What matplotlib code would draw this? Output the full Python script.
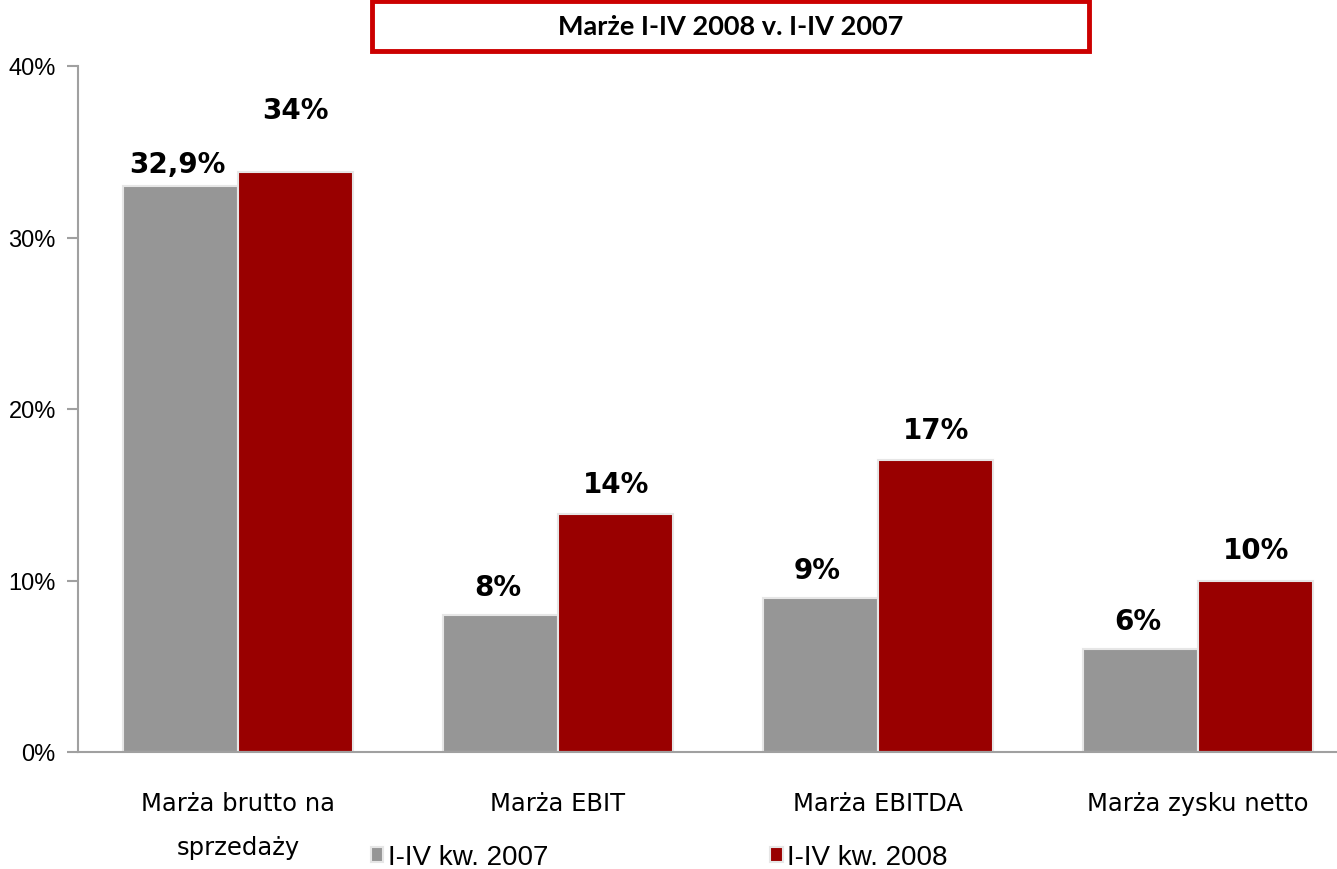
import matplotlib.pyplot as plt
from matplotlib.patches import Rectangle
import numpy as np

categories = ["Marża brutto na\nsprzedaży", "Marża EBIT", "Marża EBITDA", "Marża zysku netto"]
series_names = ["I-IV kw. 2007", "I-IV kw. 2008"]
values_2007 = [33.0, 8.0, 9.0, 6.0]
values_2008 = [33.8, 13.9, 17.0, 10.0]
labels_2007 = ["32,9%", "8%", "9%", "6%"]
labels_2008 = ["34%", "14%", "17%", "10%"]
title = "Marże I-IV 2008 v. I-IV 2007"

GRAY = "#969696"
RED = "#990000"


def main():
    W, H = 1337, 870
    fig = plt.figure(figsize=(W / 100, H / 100), dpi=100)
    # axes runs a bit past the right edge, like the cropped original
    ax = fig.add_axes([78 / W, 1 - 753 / H, 1280 / W, (753 - 67) / H])

    x = np.arange(len(categories))
    bw = 0.36
    b1 = ax.bar(x - bw / 2, values_2007, bw, color=GRAY, edgecolor="#e6e6e6",
                linewidth=1.5, label=series_names[0])
    b2 = ax.bar(x + bw / 2, values_2008, bw, color=RED, edgecolor="#e6e6e6",
                linewidth=1.5, label=series_names[1])

    for rect, lab in zip(b1, labels_2007):
        off = 22 if lab == "32,9%" else 28
        ax.annotate(lab, (rect.get_x() + rect.get_width() / 2, rect.get_height()),
                    xytext=(-3, off), textcoords="offset pixels", ha="center", va="center",
                    fontsize=20, fontweight="bold", family="DejaVu Sans")
    for rect, lab in zip(b2, labels_2008):
        off = 62 if lab == "34%" else 30
        ax.annotate(lab, (rect.get_x() + rect.get_width() / 2, rect.get_height()),
                    xytext=(0, off), textcoords="offset pixels", ha="center", va="center",
                    fontsize=20, fontweight="bold", family="DejaVu Sans")

    ax.set_xlim(-0.5, len(categories) - 0.5)
    ax.set_ylim(0, 40)
    ax.set_yticks([0, 10, 20, 30, 40])
    ax.set_yticklabels([f"{v}%" for v in [0, 10, 20, 30, 40]],
                       fontsize=17, family="Liberation Sans", fontstretch="normal")
    ax.set_xticks(x)
    ax.set_xticklabels(categories, fontsize=17.5, family="DejaVu Sans", linespacing=2.05)
    ax.tick_params(axis="x", length=0, pad=28)
    ax.tick_params(axis="y", length=8, width=1.5, color="#a0a0a0", pad=8)

    for s in ["top", "right"]:
        ax.spines[s].set_visible(False)
    for s in ["left", "bottom"]:
        ax.spines[s].set_color("#a0a0a0")
        ax.spines[s].set_linewidth(1.5)

    # title box
    fig.patches.append(Rectangle((372 / W, 1 - 52 / H), (1089 - 372) / W, 50 / H,
                                 transform=fig.transFigure, facecolor="white",
                                 edgecolor="#cc0000", linewidth=3.5))
    fig.text((372 + 1089) / 2 / W, 1 - 27 / H, title, ha="center", va="center",
             fontsize=19.5, fontweight="bold", family="Lato")

    fig.legend(loc="center left", bbox_to_anchor=(357 / W, 1 - 858 / H), ncol=2,
               frameon=False,
               prop={"family": "Liberation Sans", "size": 20, "stretch": "normal"},
               handlelength=0.45, handleheight=0.45, handletextpad=0.15,
               columnspacing=8.0, borderpad=0)

    fig.savefig("out.png", dpi=100)


if __name__ == "__main__":
    main()
